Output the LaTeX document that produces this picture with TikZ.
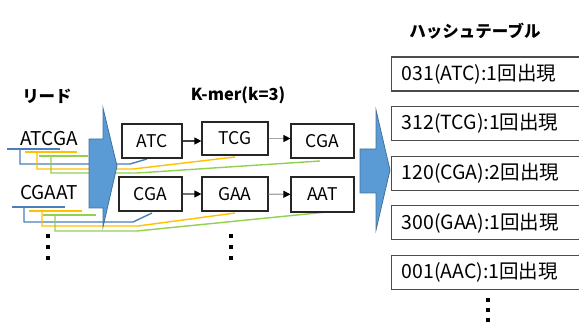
\documentclass[tikz,border=0pt]{standalone}
\usepackage{fontspec}
\setmainfont{Noto Sans CJK JP}
\usepackage{tikz}
\usetikzlibrary{arrows.meta}
\usetikzlibrary{positioning}

\definecolor{arrowblue}{HTML}{5B9BD5}
\definecolor{arrowedge}{HTML}{41719C}
\definecolor{readblue}{HTML}{4A7EBB}
\definecolor{readorange}{HTML}{FFC000}
\definecolor{readgreen}{HTML}{92D050}

\tikzset{
  title/.style={font=\fontsize{16.5}{19}\selectfont\bfseries},
  seqtext/.style={font=\fontsize{19}{22}\selectfont},
  kmerbox/.style={draw=black!85, line width=1.2pt, minimum height=34pt, inner sep=0pt, font=\fontsize{17.5}{20}\selectfont},
  hashbox/.style={draw=black!70, line width=1.2pt, anchor=west, minimum height=34pt, text width=180pt, inner xsep=10pt, align=left, font=\fontsize{19.5}{22}\selectfont},
  kmerarrow/.style={line width=1.2pt, -{Triangle[length=7pt,width=7pt,black]}},
  readline/.style={line width=1.4pt},
  bigarrow/.style={fill=arrowblue, draw=arrowedge, line width=0.8pt},
  dotmark/.style={fill=black, inner sep=0pt, minimum size=3.2pt}
}

\begin{document}
\begin{tikzpicture}[x=1pt,y=-1pt]
\useasboundingbox (0,0) rectangle (579,323);
\clip (0,0) rectangle (579,323);

% titles
\node [title] (readtitle) at (47,96) {リード};
\node [title] (kmertitle) at (238,95) {K-mer(k=3)};
\node [title] (hashtitle) at (475,31) {ハッシュテーブル};

% reads
\node [seqtext] (read1) at (49,139) {ATCGA};
\node [seqtext] (read2) at (49,193) {CGAAT};

\draw [readline,readblue] (7,149) -- (60,149);
\draw [readline,readblue] (20,149) -- (20,164) -- (130,164) -- (147,159);
\draw [readline,readorange] (25,152) -- (77,152);
\draw [readline,readorange] (37,152) -- (37,169) -- (133,169) -- (235,157);
\draw [readline,readgreen] (39,156) -- (88,156);
\draw [readline,readgreen] (51,156) -- (51,173) -- (137,173) -- (320,161);

\draw [readline,readblue] (12,207) -- (65,207);
\draw [readline,readblue] (24,207) -- (24,222) -- (133,222) -- (152,213);
\draw [readline,readorange] (29,211) -- (82,211);
\draw [readline,readorange] (42,211) -- (42,226) -- (138,226) -- (235,213);
\draw [readline,readgreen] (43,215) -- (96,215);
\draw [readline,readgreen] (55,215) -- (55,231) -- (137,231) -- (327,212);

% big arrows
\path [bigarrow] (89,139) -- (103,139) -- (103,108) -- (117,166) -- (103,227) -- (103,208) -- (89,208) -- cycle;
\path [bigarrow] (360,149) -- (376,149) -- (376,110) -- (390,170) -- (376,230) -- (376,193) -- (360,193) -- cycle;

% k-mers
\node [kmerbox,minimum width=60pt] (atc) at (152,141) {ATC};
\node [kmerbox,minimum width=66pt,minimum height=33pt] (tcg) at (235,138.5) {TCG};
\node [kmerbox,minimum width=63pt] (cga1) at (322.5,141) {CGA};
\node [kmerbox,minimum width=63pt] (cga2) at (150.5,194) {CGA};
\node [kmerbox,minimum width=66pt] (gaa) at (235,194) {GAA};
\node [kmerbox,minimum width=63pt,minimum height=35pt] (aat) at (322.5,194.5) {AAT};

\draw [kmerarrow,black!75] (atc.east) -- (atc.east -| tcg.west);
\draw [kmerarrow,black!35] (tcg.east) -- (tcg.east -| cga1.west);
\draw [kmerarrow,black!55] (cga2) -- (gaa);
\draw [kmerarrow,black!35] (gaa) -- (aat);

% hash table
\foreach \entry [count=\i] in {031(ATC):1回出現,312(TCG):1回出現,120(CGA):2回出現,300(GAA):1回出現,001(AAC):1回出現}
  \node [hashbox] (h\i) at (391,74+49.6*\i-49.6) {\entry};

% continuation dots
\foreach \y [count=\j] in {236,247,258} {
  \node [dotmark] (rdot\j) at (48,\y) {};
  \node [dotmark] (kdot\j) at (231,\y) {};
}
\foreach \y [count=\j] in {300,310,320}
  \node [dotmark] (hdot\j) at (488,\y) {};
\end{tikzpicture}
\end{document}
